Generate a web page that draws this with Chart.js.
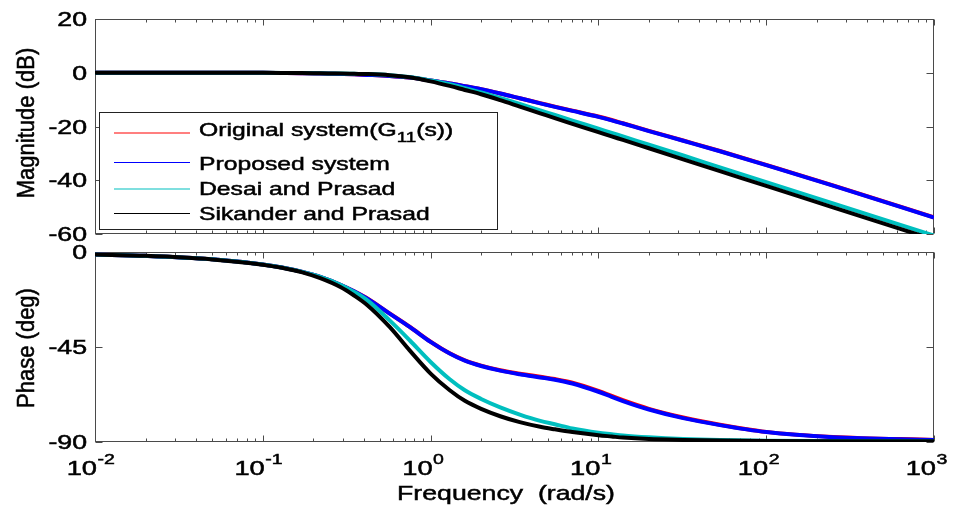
<!DOCTYPE html>
<html>
<head>
<meta charset="utf-8">
<title>Bode diagram</title>
<script src="https://cdn.jsdelivr.net/npm/chart.js@4.4.1/dist/chart.umd.min.js"></script>
<style>
  html, body { margin: 0; padding: 0; background: #fff; }
  #wrap { position: relative; width: 959px; height: 509px; }
  #wrap canvas { position: absolute; left: 0; top: 0; }
</style>
</head>
<body>
<div id="wrap">
  <canvas id="magCanvas" width="959" height="509"></canvas>
  <canvas id="phaseCanvas" width="959" height="509"></canvas>
</div>
<script>
// frequency points (rad/s)
const freq = [0.01, 0.02, 0.05, 0.1, 0.13, 0.17, 0.22, 0.29, 0.35, 0.42, 0.57, 0.75, 1, 1.3, 1.6, 2, 2.6, 3.4, 4.5, 5.5, 7, 10, 12, 14, 20, 32, 53, 100, 250, 1000];

// magnitude (dB)
const magOriginal = [0, 0, 0, -0.02, -0.08, -0.15, -0.25, -0.45, -0.6, -0.8, -1.2, -1.8, -2.9, -4.0, -5.0, -6.1, -7.7, -9.5, -11.3, -12.6, -14.1, -16.3, -17.6, -18.8, -21.6, -25.2, -29.1, -34.3, -41.9, -53.8];
const magProposed = [0, 0, 0, -0.02, -0.08, -0.15, -0.25, -0.45, -0.6, -0.8, -1.2, -1.8, -2.9, -4.0, -5.0, -6.1, -7.7, -9.5, -11.4, -12.7, -14.2, -16.4, -17.7, -18.9, -21.7, -25.3, -29.2, -34.4, -42.0, -53.9];
const magDesai = [0, 0, 0, -0.02, -0.05, -0.1, -0.2, -0.3, -0.4, -0.5, -0.9, -1.6, -2.9, -4.3, -5.7, -7.3, -9.4, -11.6, -14.0, -15.7, -17.8, -20.8, -22.4, -23.7, -26.8, -30.8, -35.2, -40.7, -48.6, -60.6];
const magSikander = [0, 0, 0, -0.02, -0.05, -0.1, -0.2, -0.3, -0.4, -0.5, -0.9, -1.7, -3.2, -4.9, -6.4, -8.0, -10.2, -12.6, -15.1, -16.9, -19.0, -22.1, -23.7, -25.0, -28.1, -32.2, -36.6, -42.1, -50.1, -62.1];

// phase (deg)
const phOriginal = [-1.2, -1.8, -3.4, -5.9, -7.3, -9.3, -11.8, -15.5, -18.6, -22.0, -29.1, -35.4, -42.5, -48.0, -51.3, -53.8, -56.0, -57.6, -59.1, -60.2, -61.9, -65.8, -68.2, -70.2, -74.3, -78.4, -81.8, -85.2, -87.6, -89.0];
const phProposed = [-1.2, -1.8, -3.4, -5.9, -7.3, -9.3, -11.8, -15.5, -18.6, -22.1, -29.2, -35.5, -42.6, -48.1, -51.5, -54.0, -56.2, -57.9, -59.4, -60.5, -62.3, -66.2, -68.6, -70.6, -74.6, -78.7, -82.0, -85.3, -87.7, -89.0];
const phDesai = [-1.2, -1.8, -3.4, -5.9, -7.3, -9.3, -11.8, -15.5, -18.9, -22.9, -32.4, -41.8, -52.1, -60.3, -65.5, -69.6, -73.6, -77.0, -80.0, -81.6, -83.6, -85.6, -86.3, -86.9, -87.8, -88.6, -89.1, -89.4, -89.5, -89.6];
const phSikander = [-1.2, -1.8, -3.5, -6.0, -7.5, -9.5, -12.4, -16.6, -20.6, -25.2, -35.5, -46.6, -57.6, -65.5, -70.5, -74.3, -77.8, -80.6, -82.8, -84.0, -85.3, -86.8, -87.4, -87.9, -88.6, -89.0, -89.3, -89.5, -89.6, -89.6];

const seriesNames = ['Original system', 'Proposed system', 'Desai and Prasad', 'Sikander and Prasad'];
const seriesColors = ['#ff0000', '#0000ff', '#00bfbf', '#000000'];

const magTicks = [20, 0, -20, -40, -60];
const phaseTicks = [0, -45, -90];
const decades = [0.01, 0.1, 1, 10, 100, 1000];
const decadeExp = ['-2', '-1', '0', '1', '2', '3'];

const FONT = '"Liberation Sans", Arial, Helvetica, sans-serif';
const AXIS_COLOR = '#4a4a4a';

// text stretched horizontally (the original figure was scaled wider than tall)
function stretchText(ctx, text, x, y, size, sx, align) {
    ctx.save();
    ctx.translate(x, y);
    ctx.scale(sx, 1);
    ctx.font = size + 'px ' + FONT;
    ctx.textAlign = align || 'left';
    ctx.textBaseline = 'alphabetic';
    ctx.lineWidth = 0.5;
    ctx.strokeStyle = ctx.fillStyle;
    ctx.fillText(text, 0, 0);
    ctx.strokeText(text, 0, 0);
    ctx.restore();
}

function textWidth(ctx, text, size, sx) {
    ctx.save();
    ctx.font = size + 'px ' + FONT;
    const w = ctx.measureText(text).width * sx;
    ctx.restore();
    return w;
}

const bodeFrame = {
    id: 'bodeFrame',
    beforeDatasetsDraw(chart, args, opts) {
        const { ctx, chartArea: a } = chart;
        const xs = chart.scales.x, ys = chart.scales.y;
        const L = Math.round(a.left) + 0.5, R = Math.round(a.right) - 0.5;
        const T = Math.round(a.top) + 0.5, B = Math.round(a.bottom) - 0.5;

        ctx.save();
        ctx.strokeStyle = AXIS_COLOR;
        ctx.lineWidth = 1;
        ctx.strokeRect(L, T, R - L, B - T);

        // x ticks, inside, top and bottom
        ctx.beginPath();
        decades.forEach((d, i) => {
            const px = Math.round(xs.getPixelForValue(d)) + 0.5;
            ctx.moveTo(px, T); ctx.lineTo(px, T + 6);
            ctx.moveTo(px, B); ctx.lineTo(px, B - 6);
            if (i < decades.length - 1) {
                for (let m = 2; m <= 9; m++) {
                    const mx = Math.round(xs.getPixelForValue(d * m)) + 0.5;
                    ctx.moveTo(mx, T); ctx.lineTo(mx, T + 3);
                    ctx.moveTo(mx, B); ctx.lineTo(mx, B - 3);
                }
            }
        });
        // y ticks, inside, left and right
        opts.yTicks.forEach(v => {
            const py = Math.round(ys.getPixelForValue(v)) + 0.5;
            ctx.moveTo(L, py); ctx.lineTo(L + 7, py);
            ctx.moveTo(R, py); ctx.lineTo(R - 7, py);
        });
        ctx.stroke();

        // y tick labels
        ctx.fillStyle = '#000';
        opts.yTicks.forEach(v => {
            const py = ys.getPixelForValue(v);
            stretchText(ctx, String(v), a.left - 8, py + 7, 19.5, 1.37, 'right');
        });

        // y title, rotated
        ctx.save();
        ctx.translate(34, opts.yTitleY);
        ctx.scale(1.1, 1);
        ctx.rotate(-Math.PI / 2);
        ctx.font = '22px ' + FONT;
        ctx.textAlign = 'center';
        ctx.textBaseline = 'alphabetic';
        ctx.lineWidth = 0.5;
        ctx.strokeStyle = '#000';
        ctx.fillText(opts.yTitle, 0, 0);
        ctx.strokeText(opts.yTitle, 0, 0);
        ctx.restore();

        // x tick labels and title (lower plot only)
        if (opts.xLabels) {
            decades.forEach((d, i) => {
                const px = xs.getPixelForValue(d);
                stretchText(ctx, '10', px + 2, 475, 21, 1.3, 'right');
                stretchText(ctx, decadeExp[i], px + 2.5, 464, 15, 1.3, 'left');
            });
            stretchText(ctx, 'Frequency  (rad/s)', 506, 500, 21, 1.27, 'center');
        }
        ctx.restore();
    },
    afterDatasetsDraw(chart, args, opts) {
        if (!opts.legend) return;
        const ctx = chart.ctx;
        ctx.save();
        // box
        ctx.fillStyle = '#fff';
        ctx.fillRect(99.5, 112.5, 398, 117);
        ctx.strokeStyle = '#222';
        ctx.lineWidth = 1;
        ctx.strokeRect(99.5, 112.5, 398, 117);

        const rowY = [133, 162.5, 189, 213.5];
        const textY = [129, 163, 188.5, 213.5];
        seriesNames.forEach((name, i) => {
            ctx.strokeStyle = seriesColors[i];
            ctx.lineWidth = 1.2;
            ctx.beginPath();
            ctx.moveTo(114, rowY[i]);
            ctx.lineTo(190, rowY[i]);
            ctx.stroke();

            ctx.fillStyle = '#000';
            const base = textY[i] + 6.8;
            if (i === 0) {
                // Original system(G11(s)) with subscript
                let x = 199;
                const part1 = 'Original system(G';
                stretchText(ctx, part1, x, base, 19, 1.3, 'left');
                x += textWidth(ctx, part1, 19, 1.3);
                stretchText(ctx, '11', x, base + 6, 14.5, 1.3, 'left');
                x += textWidth(ctx, '11', 14.5, 1.3);
                stretchText(ctx, '(s))', x, base, 19, 1.3, 'left');
            } else {
                stretchText(ctx, name, 199, base, 19, 1.3, 'left');
            }
        });
        ctx.restore();
    }
};

function toPoints(values) {
    return freq.map((f, i) => ({ x: f, y: values[i] }));
}

function makeDatasets(series) {
    // MATLAB plot order: red first, black last (on top)
    return series.map((values, i) => ({
        label: seriesNames[i],
        data: toPoints(values),
        borderColor: seriesColors[i],
        borderWidth: 4,
        pointRadius: 0,
        fill: false,
        cubicInterpolationMode: 'monotone',
        order: series.length - i
    }));
}

function makeChart(canvasId, series, yMin, yMax, padding, frameOpts) {
    return new Chart(document.getElementById(canvasId), {
        type: 'line',
        data: { datasets: makeDatasets(series) },
        options: {
            responsive: false,
            animation: false,
            events: [],
            layout: { padding: padding },
            scales: {
                x: { type: 'logarithmic', min: 0.01, max: 1000, display: false },
                y: { type: 'linear', min: yMin, max: yMax, display: false }
            },
            plugins: {
                legend: { display: false },
                tooltip: { enabled: false },
                bodeFrame: frameOpts
            }
        },
        plugins: [bodeFrame]
    });
}

makeChart('magCanvas',
    [magOriginal, magProposed, magDesai, magSikander],
    -60, 20,
    { left: 95, right: 25, top: 19, bottom: 275 },
    { yTicks: magTicks, yTitle: 'Magnitude (dB)', yTitleY: 123, xLabels: false, legend: true });

makeChart('phaseCanvas',
    [phOriginal, phProposed, phDesai, phSikander],
    -90, 0,
    { left: 95, right: 25, top: 252, bottom: 67 },
    { yTicks: phaseTicks, yTitle: 'Phase (deg)', yTitleY: 348, xLabels: true, legend: false });
</script>
</body>
</html>
